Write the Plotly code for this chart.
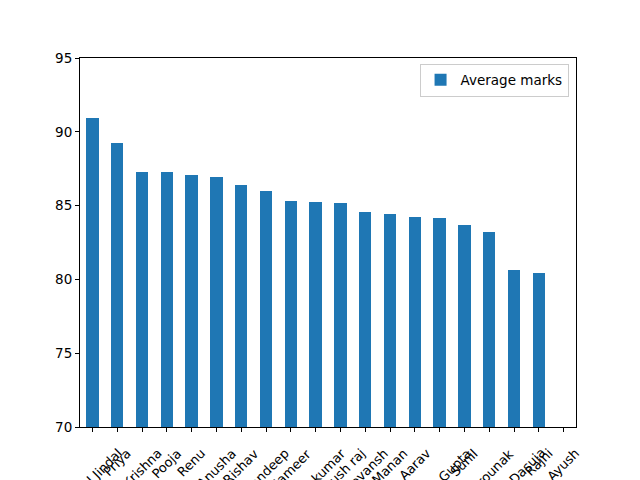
import plotly.graph_objects as go

# Average marks per student, sorted descending
students = ["Vishal Jindal", "Priya", "Krishna", "Pooja", "Renu", "Anusha",
            "Rishav", "Sandeep", "Sameer", "Nitin kumar", "Piyush raj", "Devansh",
            "Manan", "Aarav", "Aman Gupta", "Sunil", "Shrounak", "Ridhi Dasuja",
            "Rajni", "Ayush"]
avg_marks = [90.93, 89.24, 87.28, 87.28, 87.07, 86.94, 86.40, 85.99, 85.31, 85.24,
             85.18, 84.57, 84.43, 84.23, 84.16, 83.69, 83.21, 80.64, 80.43, 65.0]

fig = go.Figure()
fig.add_trace(go.Bar(
    x=list(range(len(students))),
    y=avg_marks,
    width=0.5,
    marker=dict(color="#1f77b4", line=dict(width=0)),
    name="Average marks",
    showlegend=True,
))

# rotated labels centred on their ticks, like matplotlib rotation=45
for i, name in enumerate(students):
    fig.add_annotation(
        x=i, y=0, xref="x", yref="paper",
        text=name, showarrow=False, textangle=-45,
        xanchor="center", yanchor="top", yshift=-16,
        font=dict(family="DejaVu Sans", size=13, color="black"),
    )

# the page body adds 8px, so margins are trimmed to keep the axes where the reference has them
fig.update_layout(
    width=640, height=480,
    margin=dict(l=72, r=72, t=50, b=61),
    plot_bgcolor="white", paper_bgcolor="white",
    font=dict(family="DejaVu Sans", size=13.5, color="black"),
    showlegend=True,
    legend=dict(
        x=0.985, y=0.985, xanchor="right", yanchor="top",
        bordercolor="#cccccc", borderwidth=1, bgcolor="white",
        font=dict(size=13.5), tracegroupgap=0, itemwidth=30,
    ),
    bargap=0,
)
fig.update_xaxes(
    range=[-0.5, len(students) - 0.5],
    tickmode="array", tickvals=list(range(len(students))), ticktext=[""] * len(students),
    ticks="outside", ticklen=4, tickcolor="black",
    showline=True, linecolor="black", linewidth=1, mirror=True,
    showgrid=False, zeroline=False,
)
fig.update_yaxes(
    range=[70, 95], dtick=5,
    ticks="outside", ticklen=4, tickcolor="black",
    showline=True, linecolor="black", linewidth=1, mirror=True,
    showgrid=False, zeroline=False,
)

fig.write_html("out.html")
